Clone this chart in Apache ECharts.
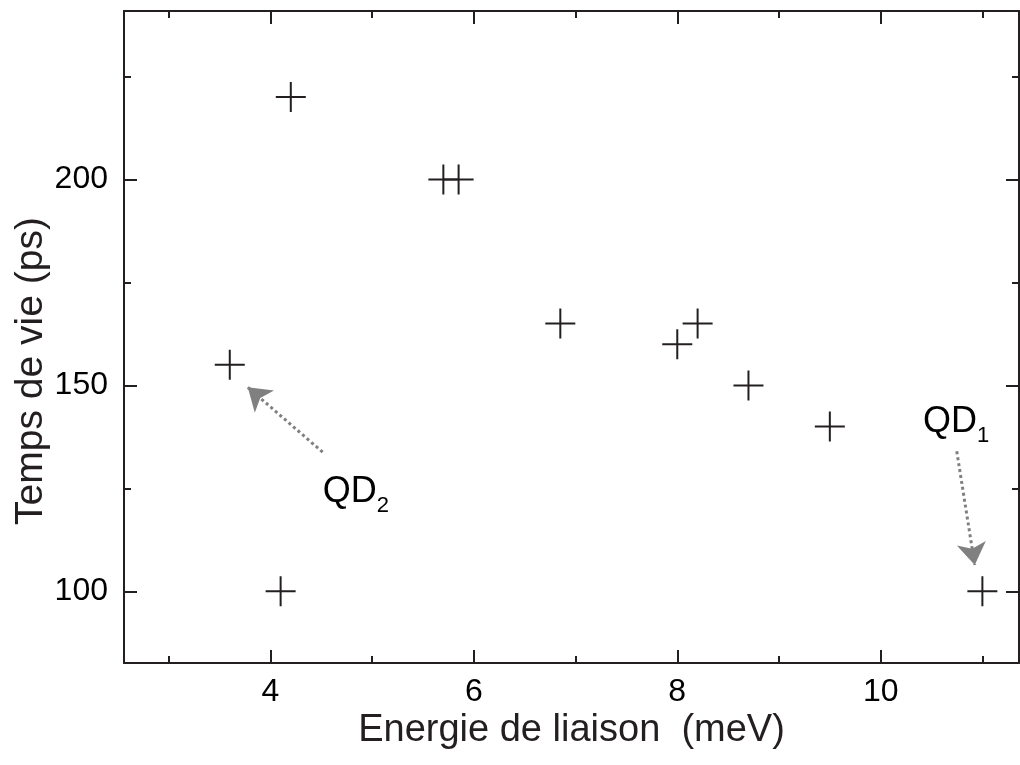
<!DOCTYPE html>
<html>
<head>
<meta charset="utf-8">
<script src="https://cdn.jsdelivr.net/npm/echarts@6/dist/echarts.min.js"></script>
<style>
html,body{margin:0;padding:0;background:#fff;}
#chart{width:1020px;height:765px;}
</style>
</head>
<body>
<div id="chart"></div>
<script>
// ---- data ----
var energies = [4.2, 4.1, 3.6, 5.7, 5.85, 6.85, 8.0, 8.2, 8.7, 9.5, 11.0];
var lifetimes = [220, 100, 155, 200, 200, 165, 160, 165, 150, 140, 100];
var xMajorTicks = [4, 6, 8, 10];
var xMinorTicks = [3, 5, 7, 9, 11];
var yMajorTicks = [100, 150, 200];
var yMinorTicks = [125, 175, 225];
var xRange = [2.56, 11.36];
var yRange = [82.6, 240.9];
var xTitle = 'Energie de liaison  (meV)';
var yTitle = 'Temps de vie (ps)';
// annotations: arrow start/end in data units, labels
var arrowQD2 = [[4.513, 133.8], [3.777, 149.55]];
var arrowQD1 = [[10.748, 134.0], [10.925, 106.4]];
var labelQD2 = {pos: [4.513, 128.45], main: 'QD', sub: '2'};
var labelQD1 = {pos: [10.415, 145.4], main: 'QD', sub: '1'};

var FONT = '"Liberation Sans", Arial, sans-serif';
var AX = '#231f20';

function xAxisDef(pos, ticks, len, showLine, showLabel, name) {
  return {
    type: 'value', position: pos, min: xRange[0], max: xRange[1],
    axisLine: {show: showLine, onZero: false, lineStyle: {color: AX, width: 2}},
    axisTick: {show: true, inside: true, length: len, customValues: ticks, lineStyle: {color: AX, width: 2}},
    axisLabel: {show: showLabel, customValues: ticks, margin: 13, color: '#000', fontSize: 32, fontFamily: FONT},
    splitLine: {show: false},
    name: name || '', nameLocation: 'middle', nameGap: 49, nameMoveOverlap: false,
    nameTextStyle: {color: '#231f20', fontSize: 38, fontFamily: FONT}
  };
}
function yAxisDef(pos, ticks, len, showLine, showLabel, name) {
  return {
    type: 'value', position: pos, min: yRange[0], max: yRange[1],
    axisLine: {show: showLine, onZero: false, lineStyle: {color: AX, width: 2}},
    axisTick: {show: true, inside: true, length: len, customValues: ticks, lineStyle: {color: AX, width: 2}},
    axisLabel: {show: showLabel, customValues: ticks, margin: 16, color: '#000', fontSize: 32, fontFamily: FONT},
    splitLine: {show: false},
    name: name || '', nameLocation: 'middle', nameGap: 73, nameRotate: 90, nameMoveOverlap: false,
    nameTextStyle: {color: '#231f20', fontSize: 39, fontFamily: FONT, padding: [0, 68, 0, 0]}
  };
}

var crossPath = 'path://M0,14 L30,14 L30,16 L0,16 Z M14,0 L16,0 L16,30 L14,30 Z';

function labelRich(l) {
  return {
    show: true, position: [0, 0], align: 'left', verticalAlign: 'top',
    formatter: '{a|' + l.main + '}{b|' + l.sub + '}',
    rich: {
      a: {fontSize: 36, fontFamily: FONT, color: '#000', verticalAlign: 'bottom', padding: [0, 0, 7, 0]},
      b: {fontSize: 22, fontFamily: FONT, color: '#000', verticalAlign: 'bottom'}
    }
  };
}

var chart = echarts.init(document.getElementById('chart'));
chart.setOption({
  animation: false,
  backgroundColor: '#fff',
  grid: {left: 124, top: 11, width: 895, height: 652, containLabel: false, outerBoundsMode: 'none'},
  xAxis: [
    xAxisDef('bottom', xMajorTicks, 13, true, true, xTitle),
    xAxisDef('bottom', xMinorTicks, 7, false, false),
    xAxisDef('top', xMajorTicks, 13, true, false),
    xAxisDef('top', xMinorTicks, 7, false, false)
  ],
  yAxis: [
    yAxisDef('left', yMajorTicks, 13, true, true, yTitle),
    yAxisDef('left', yMinorTicks, 7, false, false),
    yAxisDef('right', yMajorTicks, 13, true, false),
    yAxisDef('right', yMinorTicks, 7, false, false)
  ],
  series: [
    {
      type: 'scatter', xAxisIndex: 0, yAxisIndex: 0,
      data: energies.map(function (e, i) { return [e, lifetimes[i]]; }),
      symbol: crossPath, symbolSize: 30, symbolKeepAspect: true,
      itemStyle: {color: '#231f20', opacity: 1},
      silent: true,
      markLine: {
        silent: true, animation: false,
        symbol: ['none', 'arrow'], symbolSize: 22,
        label: {show: false},
        lineStyle: {color: '#808080', type: 'dotted', width: 3},
        itemStyle: {color: '#808080'},
        data: [
          [{coord: arrowQD2[0]}, {coord: arrowQD2[1]}],
          [{coord: arrowQD1[0]}, {coord: arrowQD1[1]}]
        ]
      },
      markPoint: {
        silent: true, animation: false,
        symbol: 'circle', symbolSize: 0,
        itemStyle: {color: 'rgba(0,0,0,0)'},
        data: [
          {coord: labelQD2.pos, label: labelRich(labelQD2)},
          {coord: labelQD1.pos, label: labelRich(labelQD1)}
        ]
      }
    }
  ]
});
</script>
</body>
</html>
